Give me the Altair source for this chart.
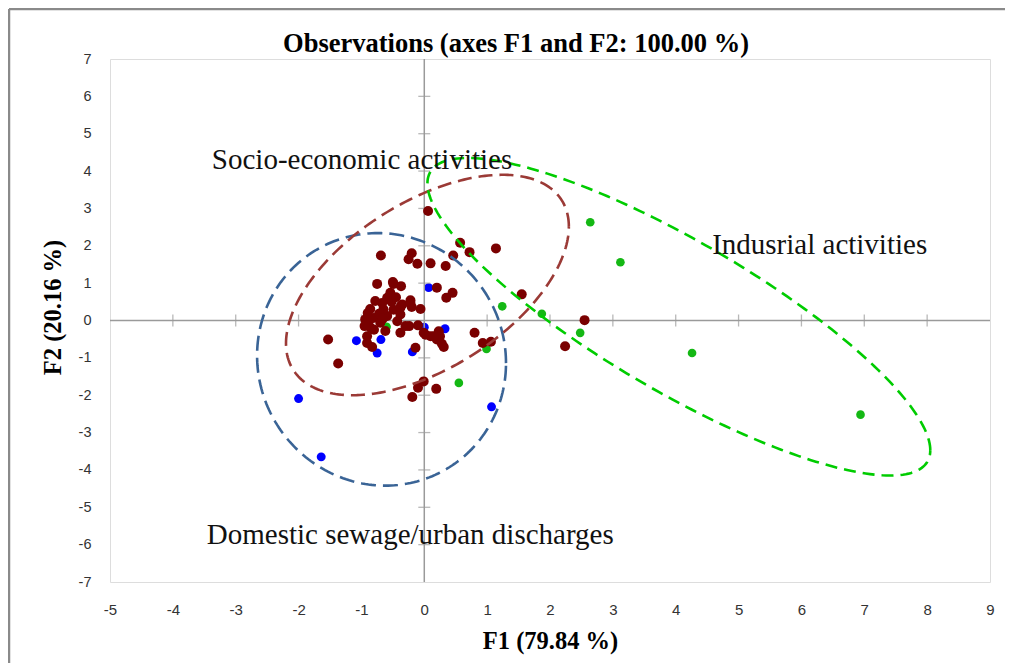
import altair as alt
import numpy as np
import pandas as pd

# ---- observations (F1, F2) ----
brown_x = [0.06, -0.69, -0.20, -0.25, -0.11, 0.10, 0.34, 0.46, 0.57, 0.72, 1.14, 1.55,
           -0.75, -0.49, -0.37, 0.20, 0.45, 0.35, -0.22, -0.06, -0.20, -0.37, -0.86,
           -1.53, -1.37, -0.38, -0.24, -0.10, 0.02, 0.10, 0.23, 0.20, 0.28, 0.31, -0.14,
           0.80, 0.93, 1.06, -0.91, -0.83, -0.01, -0.10, 0.19, -0.19, 2.55, 2.24,
           -0.54, -0.59, -0.67, -0.78, -0.35, -0.90, -0.49, -0.38, -0.94, -0.89, -0.81,
           -0.70, -0.59, -0.43, -0.91, 0.25, 0.15, -0.30, -0.01, -0.38, -0.22,
           -0.65, -0.72, -0.62, -0.80, -0.52, -0.85, -0.45, -0.95, -0.66, -0.50]
brown_y = [2.93, 1.74, 1.80, 1.64, 1.52, 1.53, 1.46, 1.74, 2.08, 1.83, 1.93, 0.70,
           0.98, 0.98, 0.92, 0.88, 0.74, 0.61, 0.54, 0.31, 0.36, 0.40, 0.31,
           -0.51, -1.15, -0.33, -0.15, -0.13, -0.38, -0.42, -0.29, -0.51, -0.62, -0.71, -0.73,
           -0.33, -0.60, -0.57, -0.60, -0.71, -1.63, -1.80, -1.83, -2.05, 0.01, -0.69,
           0.74, 0.61, 0.47, 0.52, 0.43, 0.20, 0.29, 0.16, 0.03, -0.10, 0.07,
           -0.06, 0.12, -0.02, -0.42, -0.42, -0.42, -0.15, -0.33, 0.34, 0.47,
           0.30, 0.18, -0.28, -0.25, 0.50, -0.20, 0.62, -0.15, 0.05, 1.03]

blue_x = [-2.00, -1.64, 1.07, 0.07, -1.08, -0.69, -0.75, -0.19, 0.00, 0.33]
blue_y = [-2.09, -3.65, -2.31, 0.88, -0.54, -0.51, -0.87, -0.84, -0.18, -0.22]

green_x = [2.64, 3.12, 1.87, 1.24, 2.48, 4.26, 6.94, 0.55, 0.99, -0.60]
green_y = [2.63, 1.56, 0.18, 0.38, -0.33, -0.87, -2.52, -1.67, -0.76, -0.17]

# ---- group ellipses: centre, half extents, correlation ----
ell_name = ["Domestic", "Socio", "Industrial"]
ell_cx = [-0.68, 0.05, 4.05]
ell_cy = [-1.04, 0.95, 0.10]
ell_hx = [1.98, 2.25, 4.00]
ell_hy = [3.38, 2.95, 4.25]
ell_rho = [-0.03, 0.53, -0.84]

# ---- annotations ----
ann_text = ["Socio-economic activities", "Indusrial activities",
            "Domestic sewage/urban discharges"]
ann_x = [-3.38, 4.58, -3.46]
ann_y = [4.30, 2.03, -5.73]

x_ticks = list(range(-5, 10))
y_ticks = list(range(-7, 8))
x_cross = [v for v in range(-4, 9) if v != 0]
y_cross = [v for v in range(-6, 7) if v != 0]

AXIS_GRAY = "#9a9a9a"

xs = alt.Scale(domain=[-5, 9], nice=False, zero=False)
ys = alt.Scale(domain=[-7, 7], nice=False, zero=False)
xaxis = alt.Axis(values=x_ticks, grid=False, domain=False, ticks=False,
                 labelExpr="'' + datum.value",
                 labelPadding=20, labelFontSize=15, labelFont="Liberation Sans",
                 labelColor="#333333", labelFlush=False, labelOverlap=False,
                 title="F1 (79.84 %)", titleFont="Liberation Serif", titleFontSize=24.5,
                 titleFontWeight="bold", titleColor="black",
                 titleY=59, titleBaseline="middle")
yaxis = alt.Axis(values=y_ticks, grid=False, domain=False, ticks=False,
                 labelExpr="'' + datum.value",
                 labelPadding=19, labelFontSize=14.5, labelFont="Liberation Sans",
                 labelColor="#333333", labelFlush=False, labelOverlap=False,
                 title="F2 (20.16 %)", titleFont="Liberation Serif", titleFontSize=24.5,
                 titleFontWeight="bold", titleColor="black",
                 titleX=-57, titleY=248, titleBaseline="middle", titleAlign="center")
X = alt.X("x:Q", scale=xs, axis=xaxis)
Y = alt.Y("y:Q", scale=ys, axis=yaxis)

# points
g_df = pd.DataFrame({"x": green_x, "y": green_y})
b_df = pd.DataFrame({"x": blue_x, "y": blue_y})
r_df = pd.DataFrame({"x": brown_x, "y": brown_y})
green_l = alt.Chart(g_df).mark_circle(size=75, color="#14B814", opacity=1).encode(x=X, y=Y)
blue_l = alt.Chart(b_df).mark_circle(size=80, color="#0000FF", opacity=1).encode(x=X, y=Y)
brown_l = alt.Chart(r_df).mark_circle(size=100, color="#7A0000", opacity=1).encode(x=X, y=Y)

# axis lines through the origin, with cross ticks
vline = alt.Chart(pd.DataFrame({"x": [0]})).mark_rule(
    color=AXIS_GRAY, strokeWidth=1.5).encode(x=X)
hline = alt.Chart(pd.DataFrame({"y": [0]})).mark_rule(
    color=AXIS_GRAY, strokeWidth=1.5).encode(y=Y)
xt_df = pd.DataFrame({"x": x_cross, "y": [0] * len(x_cross)})
yt_df = pd.DataFrame({"x": [0] * len(y_cross), "y": y_cross})
xticks_l = alt.Chart(xt_df).mark_tick(orient="vertical", size=12, thickness=1.3,
                                       color=AXIS_GRAY).encode(x=X, y=Y)
yticks_l = alt.Chart(yt_df).mark_tick(orient="horizontal", size=12, thickness=1.3,
                                       color=AXIS_GRAY).encode(x=X, y=Y)

# ellipses
ell_style = {"Domestic": ("#3A6496", [15, 7]),
             "Socio": ("#9B3A36", [14, 7]),
             "Industrial": ("#00CC00", [12, 7])}
ell_layers = []
t = np.linspace(0, 2 * np.pi, 241)
for n, cx, cy, hx, hy, r in zip(ell_name, ell_cx, ell_cy, ell_hx, ell_hy, ell_rho):
    ex = cx + hx * np.cos(t)
    ey = cy + hy * (r * np.cos(t) + np.sqrt(1 - r * r) * np.sin(t))
    df = pd.DataFrame({"x": ex, "y": ey, "i": np.arange(len(t))})
    col, dash = ell_style[n]
    ell_layers.append(
        alt.Chart(df).mark_line(color=col, strokeWidth=2.6, strokeDash=dash)
        .encode(x=X, y=Y, order="i:Q")
    )

# annotations
a_df = pd.DataFrame({"x": ann_x, "y": ann_y, "t": ann_text})
ann_l = alt.Chart(a_df).mark_text(align="left", baseline="middle", font="Liberation Serif",
                                  fontSize=29, color="#111111").encode(x=X, y=Y, text="t:N")

# outer chart frame (decoration)
top_border = alt.Chart(pd.DataFrame({"k": [0]})).mark_rule(
    color="#8a8a8a", strokeWidth=2.5).encode(
    x=alt.value(-101), x2=alt.value(905), y=alt.value(-50))
left_border = alt.Chart(pd.DataFrame({"k": [0]})).mark_rule(
    color="#8a8a8a", strokeWidth=2.5).encode(
    x=alt.value(-101), y=alt.value(-50), y2=alt.value(620))

chart = alt.layer(
    green_l, blue_l, vline, hline, xticks_l, yticks_l, brown_l, *ell_layers, ann_l,
    top_border, left_border
).properties(
    width=880, height=523,
    autosize=alt.AutoSizeParams(type="none"),
    padding={"left": 102, "top": 51, "right": 15, "bottom": 81},
    title=alt.TitleParams("Observations (axes F1 and F2: 100.00 %)", font="Liberation Serif",
                          fontSize=26.5, fontWeight="bold", color="black", dx=-34,
                          offset=-77, baseline="bottom", frame="group"),
).configure_view(stroke="#a6a6a6", strokeWidth=1).configure(background="white")

chart.save("out.html", embed_options={"renderer": "svg", "actions": False})
